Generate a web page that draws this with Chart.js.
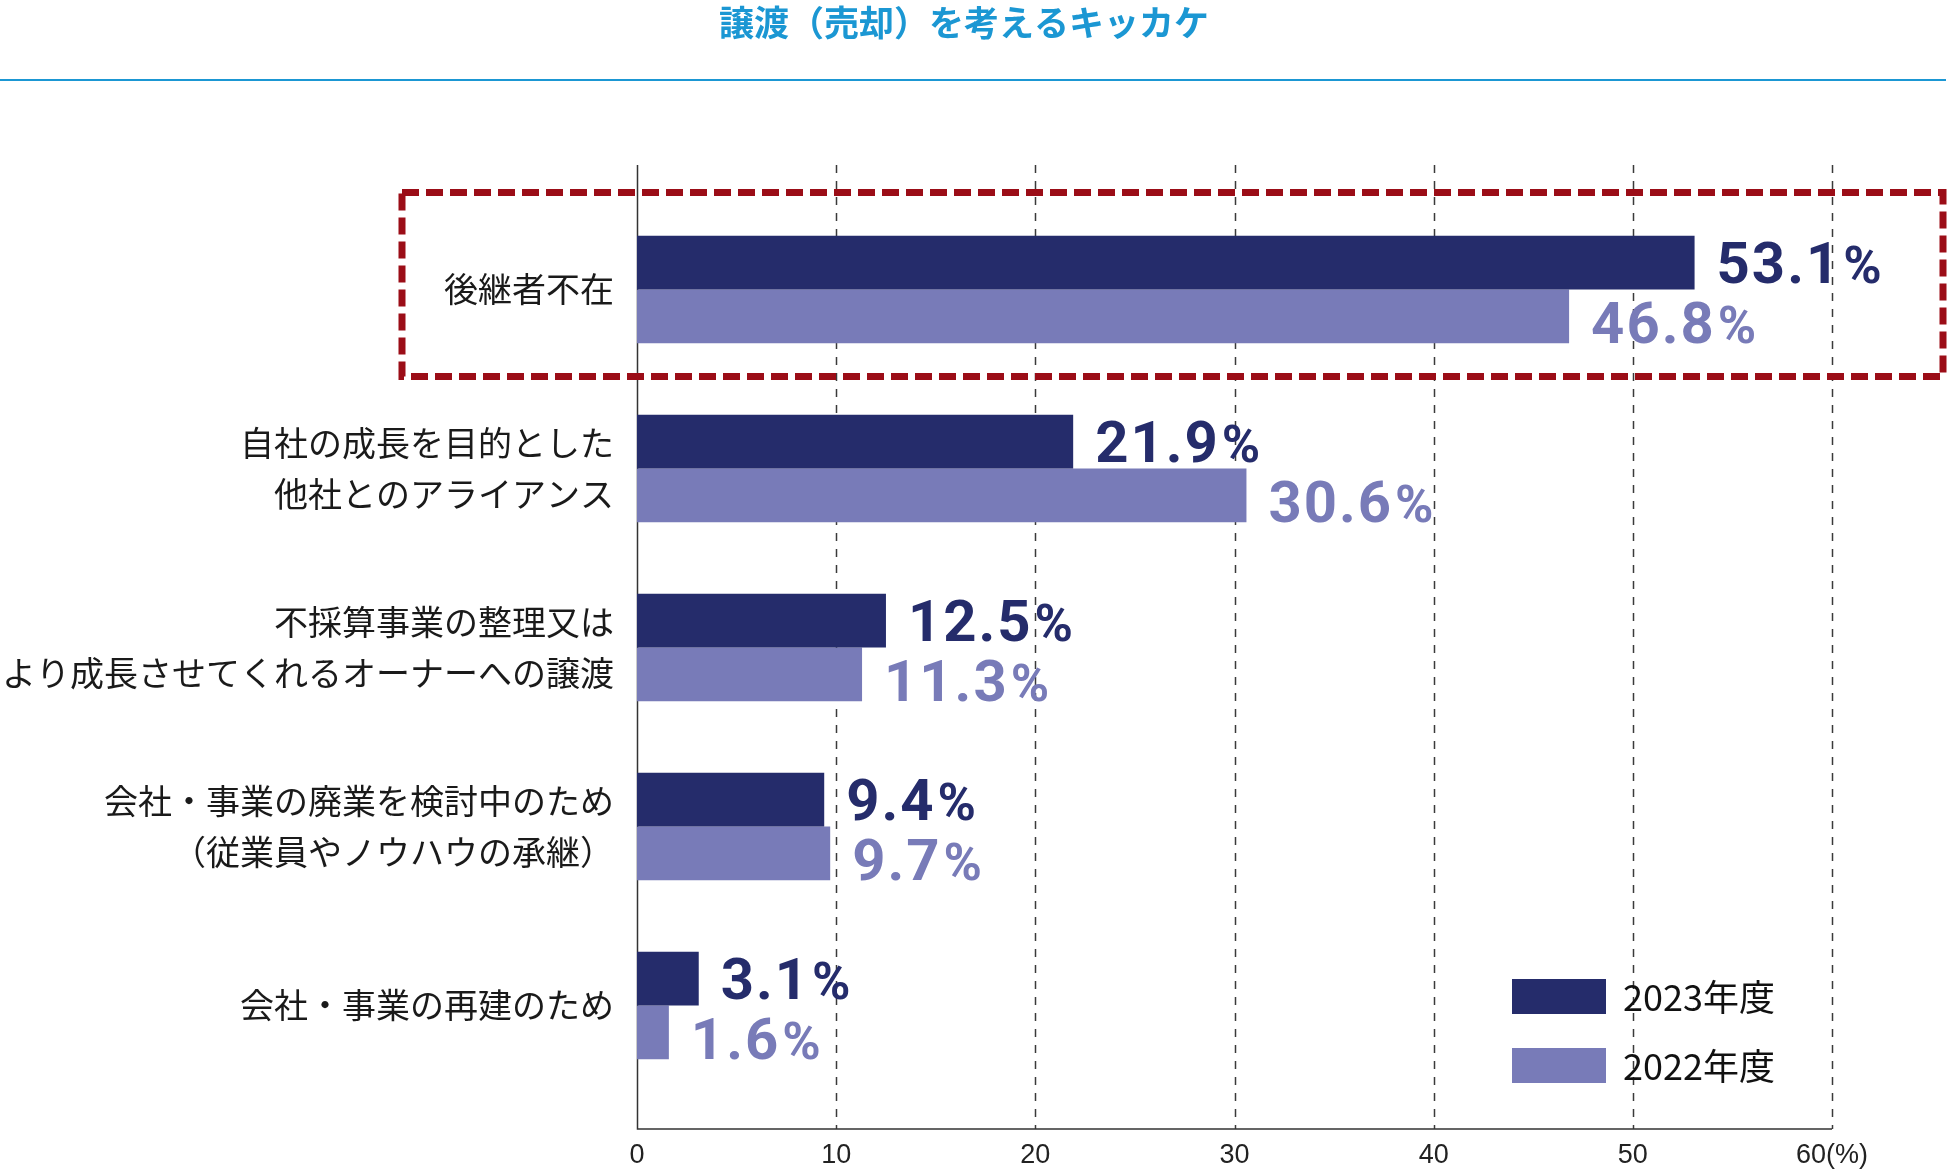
<!DOCTYPE html>
<html>
<head>
    <meta charset="utf-8">
    <title>譲渡（売却）を考えるキッカケ</title>
    <style>
        body { margin: 0; background: #fff; }
        canvas { display: block; }
    </style>
</head>
<body>
    <canvas id="grafico" width="1950" height="1170"></canvas>

    <script src="https://cdn.jsdelivr.net/npm/chart.js@4/dist/chart.umd.min.js"></script>
    <script>
        // dados
        var titulo = '譲渡（売却）を考えるキッカケ';
        var categorias = [
            '後継者不在',
            ['自社の成長を目的とした', '他社とのアライアンス'],
            ['不採算事業の整理又は', 'より成長させてくれるオーナーへの譲渡'],
            ['会社・事業の廃業を検討中のため', '（従業員やノウハウの承継）'],
            '会社・事業の再建のため'
        ];
        var series = ['2023年度', '2022年度'];
        var valores2023 = [53.1, 21.9, 12.5, 9.4, 3.1];
        var valores2022 = [46.8, 30.6, 11.3, 9.7, 1.6];
        var ticksX = [0, 10, 20, 30, 40, 50, 60];
        var unidade = '(%)';

        var corEscura = '#252c6b';
        var corClara = '#787bb8';
        var corTitulo = '#1b97d3';
        var fonteJP = "'Noto Sans CJK JP', 'Noto Sans', sans-serif";

        var AXIS_TOP = 165, AXIS_BOTTOM = 1129;

        var decor = {
            id: 'decor',
            beforeDraw: function(chart){
                var ctx = chart.ctx;
                ctx.save();
                ctx.fillStyle = corTitulo;
                ctx.font = 'bold 35px ' + fonteJP;
                ctx.textAlign = 'center';
                ctx.textBaseline = 'middle';
                ctx.fillText(titulo, 964, 23);
                ctx.strokeStyle = corTitulo;
                ctx.lineWidth = 2;
                ctx.beginPath();
                ctx.moveTo(0, 80);
                ctx.lineTo(1946, 80);
                ctx.stroke();
                ctx.restore();
            },
            beforeDatasetsDraw: function(chart){
                var ctx = chart.ctx;
                var sx = chart.scales.x;
                ctx.save();
                // linhas de grade tracejadas
                ctx.strokeStyle = '#3a3a3a';
                ctx.lineWidth = 1.5;
                ctx.setLineDash([8, 8]);
                ticksX.forEach(function(v){
                    if (v === 0) return;
                    var x = Math.round(sx.getPixelForValue(v)) + 0.5;
                    ctx.beginPath();
                    ctx.moveTo(x, AXIS_TOP);
                    ctx.lineTo(x, AXIS_BOTTOM);
                    ctx.stroke();
                });
                // eixos
                ctx.setLineDash([]);
                ctx.strokeStyle = '#333';
                var x0 = Math.round(sx.getPixelForValue(0)) + 0.5;
                ctx.beginPath();
                ctx.moveTo(x0, AXIS_TOP);
                ctx.lineTo(x0, AXIS_BOTTOM);
                ctx.lineTo(sx.getPixelForValue(60), AXIS_BOTTOM);
                ctx.stroke();
                ctx.restore();
            },
            afterDatasetsDraw: function(chart){
                var ctx = chart.ctx;
                var sy = chart.scales.y;
                ctx.save();

                // rótulos de valor
                chart.data.datasets.forEach(function(ds, di){
                    var meta = chart.getDatasetMeta(di);
                    meta.data.forEach(function(bar, i){
                        var num = ds.data[i].toFixed(1);
                        var x = bar.x + 22;
                        var y = bar.y + 20.5 + (di === 1 ? 6 : 0);
                        ctx.fillStyle = ds.backgroundColor;
                        ctx.textAlign = 'left';
                        ctx.textBaseline = 'alphabetic';
                        ctx.letterSpacing = '2px';
                        ctx.font = 'bold 58px Roboto, sans-serif';
                        ctx.fillText(num, x, y);
                        var w = ctx.measureText(num).width;
                        ctx.letterSpacing = '0px';
                        ctx.font = 'bold 52px Roboto, sans-serif';
                        ctx.fillText('%', x + w + 2, y);
                    });
                });

                // retângulo vermelho tracejado
                var cy = sy.getPixelForValue(0);
                ctx.strokeStyle = '#9b0d17';
                ctx.lineWidth = 7;
                ctx.setLineDash([17, 7]);
                ctx.strokeRect(402, cy - 97, 1943 - 402, 184);
                ctx.setLineDash([]);

                // legenda
                chart.data.datasets.forEach(function(ds, di){
                    var top = 979 + di * 69;
                    ctx.fillStyle = ds.backgroundColor;
                    ctx.fillRect(1512, top, 94, 35);
                    ctx.fillStyle = '#111';
                    ctx.font = '36px ' + fonteJP;
                    ctx.textAlign = 'left';
                    ctx.textBaseline = 'middle';
                    ctx.fillText(ds.label, 1623, top + 18);
                });
                ctx.restore();
            }
        };

        var ctx = document.getElementById('grafico');
        var chartGraph = new Chart(ctx, {
            type: 'bar',
            data: {
                labels: categorias,
                datasets: [
                    { label: series[0], data: valores2023, backgroundColor: corEscura },
                    { label: series[1], data: valores2022, backgroundColor: corClara }
                ]
            },
            options: {
                indexAxis: 'y',
                responsive: false,
                devicePixelRatio: 1,
                animation: false,
                layout: { padding: { top: 200, right: 118, left: 0, bottom: 0 } },
                datasets: {
                    bar: { categoryPercentage: 0.6, barPercentage: 1.0 }
                },
                plugins: {
                    legend: { display: false },
                    tooltip: { enabled: false }
                },
                scales: {
                    x: {
                        min: 0,
                        max: 60,
                        grid: { display: false, drawTicks: false },
                        border: { display: false },
                        ticks: {
                            stepSize: 10,
                            padding: 44,
                            color: '#222',
                            font: { family: "'Liberation Sans', Arial, sans-serif", size: 27 },
                            callback: function(v){ return v === 60 ? v + unidade : v; }
                        },
                        afterFit: function(s){ s.height = 75; }
                    },
                    y: {
                        grid: { display: false, drawTicks: false },
                        border: { display: false },
                        ticks: {
                            autoSkip: false,
                            padding: 23,
                            color: '#1a1a1a',
                            font: { family: fonteJP, size: 34, lineHeight: 1.5 }
                        },
                        afterFit: function(s){ s.width = 637; }
                    }
                }
            },
            plugins: [decor]
        });
    </script>
</body>
</html>
